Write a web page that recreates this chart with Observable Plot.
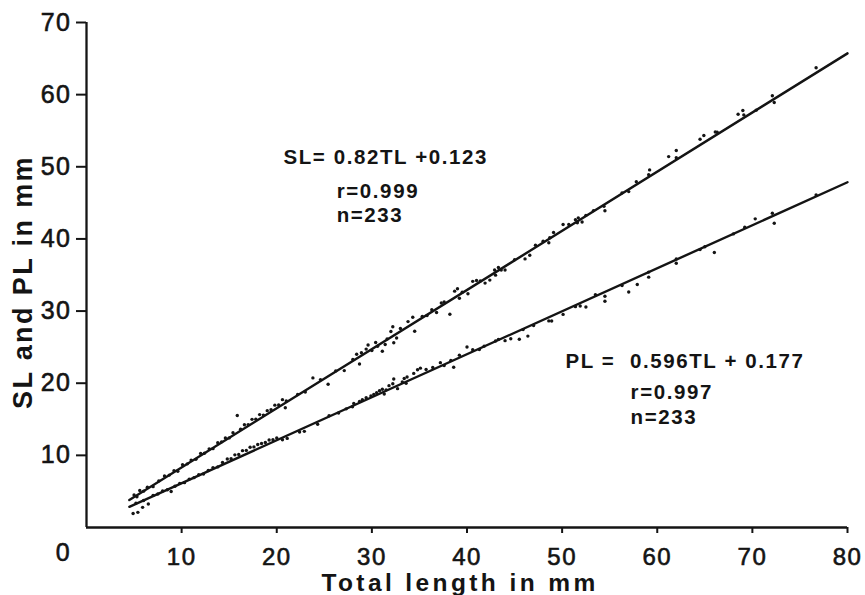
<!DOCTYPE html>
<html>
<head>
<meta charset="utf-8">
<script src="https://cdn.jsdelivr.net/npm/d3@7"></script>
<script src="https://cdn.jsdelivr.net/npm/@observablehq/plot@0.6"></script>
<style>
  html, body { margin: 0; padding: 0; background: #fff; }
  #chart { width: 865px; height: 595px; }
  .ls-x-title { letter-spacing: 3.4px; }
  .ls-y-title { letter-spacing: 2.4px; }
  .ls-note { letter-spacing: 1.6px; }
  .ls-tick { letter-spacing: 1.5px; stroke: #141414; stroke-width: 0.6px; }
</style>
</head>
<body>
<div id="chart"></div>
<script>
// Axis ticks
const xTicks = [10, 20, 30, 40, 50, 60, 70, 80];
const yTicks = [10, 20, 30, 40, 50, 60, 70];

// Axis titles
const xTitle = "Total length in mm";
const yTitle = "SL and PL in mm";

// Regressions of standard length (SL) and pre-anal length (PL) on total length (TL)
const fitNames = ["SL", "PL"];
const fitSlopes = [0.82, 0.596];
const fitIntercepts = [0.123, 0.177];
const fitR = [0.999, 0.997];
const fitN = [233, 233];
const fitRange = [4.5, 80]; // TL span covered by the fitted lines

// Measured specimens: [TL, SL] in mm
const slPoints = [
  [5.0,4.52],[5.3,4.27],[5.6,5.12],[6.0,5.04],[6.4,5.57],[7.0,5.66],[7.6,6.46],[8.2,7.15],
  [8.7,7.26],[9.2,7.87],[9.6,7.80],[10.1,8.71],[10.6,8.82],[11.0,9.34],[11.5,9.45],[12.0,10.26],
  [12.4,10.29],[12.9,10.90],[13.3,10.93],[13.8,11.74],[14.2,11.87],[14.6,12.40],[15.0,12.42],
  [15.4,13.15],[15.85,15.52],[16.2,13.61],[16.6,14.24],[17.0,14.26],[17.4,14.99],[17.8,15.02],
  [18.2,15.65],[18.6,15.58],[19.0,16.20],[19.4,16.33],[19.8,16.96],[20.2,16.99],[20.6,17.72],
  [20.9,16.60],[21.0,17.54],[22.2,18.43],[23.0,18.78],[23.8,20.74],[24.6,20.50],[25.4,19.85],
  [26.2,21.71],[27.1,21.75],[28.0,23.28],[28.4,24.01],[28.7,22.66],[28.9,24.22],[29.4,24.73],
  [29.6,25.30],[30.0,24.52],[30.4,25.65],[30.6,25.12],[31.1,24.43],[31.4,25.37],[31.6,26.14],
  [32.0,27.16],[32.2,27.83],[32.3,25.61],[32.6,26.26],[33.0,27.58],[33.8,28.54],[34.3,29.15],
  [34.5,27.21],[35.3,29.27],[35.8,29.38],[36.3,30.19],[36.8,29.80],[37.3,31.11],[37.6,31.26],
  [38.2,29.55],[38.7,32.76],[39.0,33.10],[39.2,31.77],[39.5,32.61],[40.1,32.41],[40.6,34.12],
  [41.0,34.24],[41.4,34.17],[41.9,33.88],[42.4,34.29],[42.9,35.70],[43.0,34.98],[43.3,36.03],
  [43.6,35.68],[44.0,35.70],[45.0,37.12],[46.1,37.23],[46.6,37.74],[47.2,39.13],[48.0,39.68],
  [48.6,39.48],[48.7,40.16],[49.1,40.89],[50.1,42.01],[50.7,42.00],[51.4,42.67],[51.6,42.24],
  [51.7,42.92],[52.1,42.35],[52.5,43.27],[53.3,43.93],[54.4,44.53],[54.5,43.91],[56.3,46.39],
  [57.0,46.56],[57.8,47.92],[59.1,48.89],[59.2,49.57],[61.2,51.41],[62.0,52.26],[62.0,51.26],
  [64.5,53.81],[64.9,54.34],[66.1,54.83],[66.3,54.79],[68.5,57.29],[69.0,57.80],[69.1,57.19],
  [70.4,57.85],[72.1,59.85],[72.3,58.91],[76.7,63.72]
];

// Measured specimens: [TL, PL] in mm
const plPoints = [
  [4.9,1.95],[5.2,3.38],[5.4,2.10],[5.9,2.79],[6.0,3.75],[6.5,3.25],[7.0,4.45],[7.5,4.65],
  [8.0,5.05],[8.5,5.24],[8.9,4.98],[9.3,5.72],[9.8,6.12],[10.3,6.22],[10.8,6.71],[11.3,6.91],
  [11.8,7.31],[12.3,7.41],[12.8,7.91],[13.3,8.30],[13.8,8.40],[14.3,9.00],[14.8,9.50],[15.2,9.54],
  [15.6,10.07],[16.0,10.11],[16.4,10.65],[16.8,10.69],[17.2,11.13],[17.6,11.17],[18.0,11.50],
  [18.4,11.64],[18.8,11.78],[19.2,12.12],[19.6,12.16],[20.0,12.40],[20.6,12.16],[21.1,12.35],
  [22.4,13.23],[22.9,13.33],[24.3,14.31],[25.5,15.48],[26.5,15.87],[27.3,16.45],[27.96,16.74],
  [28.1,17.20],[28.7,17.48],[29.0,17.70],[29.4,17.98],[29.9,18.22],[30.2,18.43],[30.5,18.69],
  [30.8,18.95],[31.1,19.17],[31.3,18.50],[31.5,19.08],[31.8,19.66],[32.2,19.93],[32.3,20.59],
  [32.7,19.25],[33.2,20.17],[33.4,20.65],[33.6,19.98],[33.7,20.87],[34.4,21.36],[34.8,21.87],
  [35.1,22.09],[35.7,21.91],[36.4,22.17],[37.2,22.85],[37.6,22.44],[38.3,23.15],[38.6,22.21],
  [39.2,23.89],[40.0,25.02],[40.6,24.64],[41.3,24.67],[41.8,25.14],[43.0,25.86],[43.3,26.07],
  [44.0,25.90],[44.6,26.16],[45.5,26.10],[45.9,27.43],[46.4,26.53],[47.0,27.99],[48.6,28.64],
  [48.9,28.62],[50.1,29.54],[51.4,30.61],[51.9,30.71],[52.5,30.57],[53.5,32.26],[54.5,32.06],
  [54.5,31.36],[56.3,33.53],[57.0,32.65],[57.9,33.69],[59.1,35.40],[59.1,34.70],[62.0,36.63],
  [62.0,37.23],[64.5,38.52],[65.0,38.92],[66.0,38.11],[68.0,40.70],[69.2,41.62],[70.3,42.78],
  [72.1,43.55],[72.3,42.17],[76.7,46.09]
];

// Fitted lines from the stated equations
const fitLines = fitNames.flatMap((name, i) =>
  fitRange.map(tl => ({name, tl, v: fitSlopes[i] * tl + fitIntercepts[i]}))
);

// Equation blocks, anchored in data units (TL, length)
const notes = [
  {text: `${fitNames[0]}= ${fitSlopes[0]}TL +${fitIntercepts[0]}`, tl: 20.7, v: 51.3},
  {text: `r=${fitR[0]}`, tl: 26.3, v: 46.6},
  {text: `n=${fitN[0]}`, tl: 26.3, v: 43.25},
  {text: `${fitNames[1]} = \u00a0${fitSlopes[1]}TL + ${fitIntercepts[1]}`, tl: 50.35, v: 23.0},
  {text: `r=${fitR[1]}`, tl: 57.2, v: 18.7},
  {text: `n=${fitN[1]}`, tl: 57.2, v: 15.25}
];

const ink = "#141414";

const chart = Plot.plot({
  width: 865,
  height: 595,
  marginTop: 22,
  marginBottom: 68,
  marginLeft: 86,
  marginRight: 18,
  x: {domain: [0, xTicks[xTicks.length - 1]]},
  y: {domain: [0, yTicks[yTicks.length - 1]]},
  style: {
    fontFamily: "'Liberation Sans', Arial, Helvetica, sans-serif",
    color: ink,
    background: "#fff",
    overflow: "visible"
  },
  marks: [
    // frame: left and bottom axis lines
    Plot.ruleX([0], {y1: 0, y2: yTicks[yTicks.length - 1], stroke: ink, strokeWidth: 2.3}),
    Plot.ruleY([0], {x1: 0, x2: xTicks[xTicks.length - 1], stroke: ink, strokeWidth: 2.3}),
    Plot.axisY(yTicks, {tickSize: 10, tickPadding: 5, strokeWidth: 2, fontSize: 25, label: null, tickFormat: d => d}),
    Plot.axisX(xTicks, {tickSize: 6, tickPadding: 14, strokeWidth: 2, fontSize: 24, label: null, tickFormat: d => d}),
    // shared origin label
    Plot.text([0], {x: d => d, y: d => d, text: d => d, dx: -23, dy: 25, fontSize: 25}),
    // axis titles
    Plot.text([xTitle], {text: d => d, frameAnchor: "bottom", lineAnchor: "middle",
      textAnchor: "middle", dx: -7, dy: 56, fontSize: 24.5, fontWeight: "bold"}),
    Plot.text([yTitle], {text: d => d, frameAnchor: "left", lineAnchor: "middle",
      textAnchor: "middle", rotate: -90, dx: -63, dy: 7, fontSize: 27, fontWeight: "bold"}),
    // regression lines
    Plot.line(fitLines, {x: "tl", y: "v", z: "name", stroke: ink, strokeWidth: 2.4}),
    // specimens
    Plot.dot(slPoints, {x: d => d[0], y: d => d[1], r: 1.7, fill: ink}),
    Plot.dot(plPoints, {x: d => d[0], y: d => d[1], r: 1.7, fill: ink}),
    // equations
    Plot.text(notes, {x: "tl", y: "v", text: "text", textAnchor: "start", fontSize: 20.5,
      fontWeight: "bold"})
  ]
});

document.getElementById("chart").appendChild(chart);

// letter spacing and stroke weight of the typeset labels
const noteTexts = new Set(notes.map(d => d.text));
const tickTexts = new Set([...xTicks, ...yTicks, 0].map(String));
for (const t of chart.querySelectorAll("text")) {
  const s = t.textContent;
  if (s === xTitle) t.classList.add("ls-x-title");
  else if (s === yTitle) t.classList.add("ls-y-title");
  else if (noteTexts.has(s)) t.classList.add("ls-note");
  else if (tickTexts.has(s)) t.classList.add("ls-tick");
}
</script>
</body>
</html>
